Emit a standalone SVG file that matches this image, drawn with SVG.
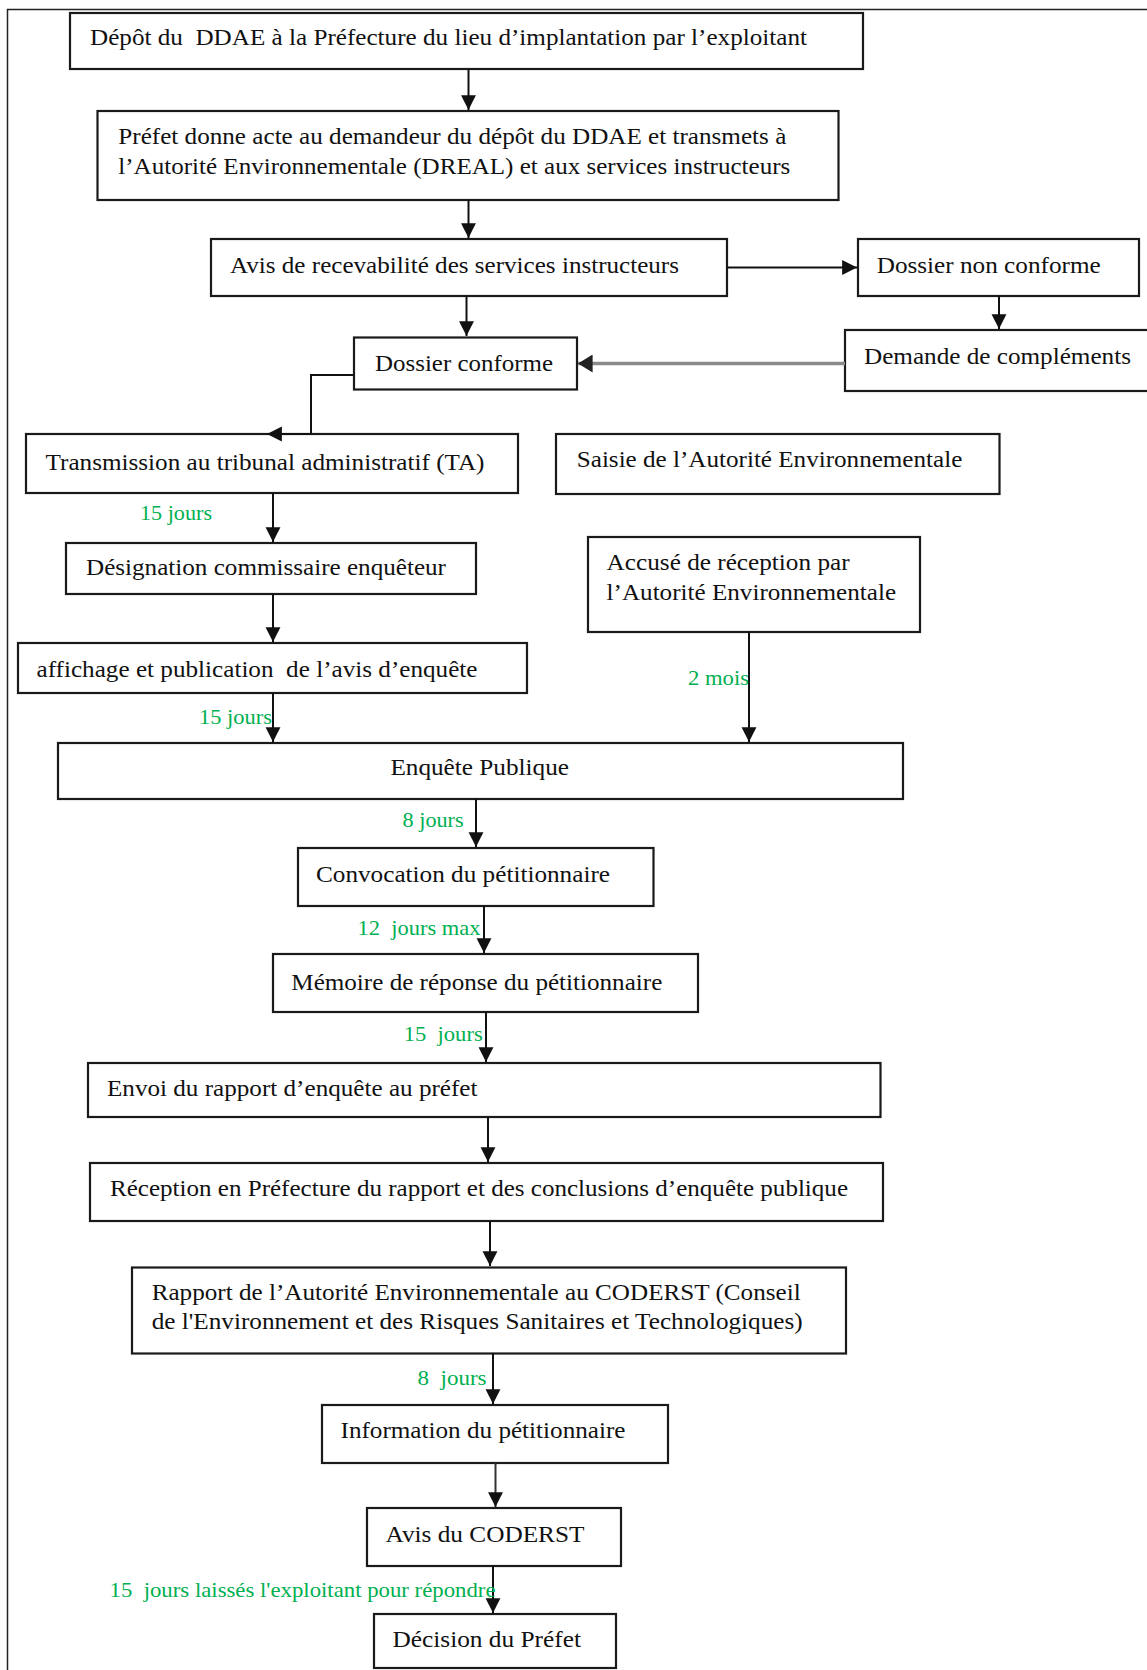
<svg xmlns="http://www.w3.org/2000/svg" width="1147" height="1670" viewBox="0 0 1147 1670" xml:space="preserve">
<defs>
<marker id="ah" markerUnits="userSpaceOnUse" markerWidth="16" markerHeight="16" viewBox="0 0 14 14" refX="13" refY="7" orient="auto"><path d="M0,0.5 L13,7 L0,13.5 Z" fill="#111"/></marker>
<marker id="ahg" markerUnits="userSpaceOnUse" markerWidth="16" markerHeight="18" viewBox="0 0 14 16" refX="13" refY="8" orient="auto"><path d="M0,0 L13,8 L0,16 Z" fill="#222"/></marker>
</defs>
<style>
.box{fill:#fff;stroke:#1a1a1a;stroke-width:2.2}
.t{font-family:"Liberation Serif","Times New Roman",serif;font-size:23px;fill:#111;white-space:pre}
.g{font-family:"Liberation Serif","Times New Roman",serif;font-size:21px;fill:#00b050;white-space:pre}
.c{fill:none;stroke:#111;stroke-width:2}
.cg{fill:none;stroke:#8a8a8a;stroke-width:3.5}
</style>
<rect x="0" y="0" width="1147" height="1670" fill="#fff"/>
<rect id="frame" x="7.5" y="9.5" width="1200" height="1700" fill="none" stroke="#222" stroke-width="1.5"/>

<g id="n1"><rect class="box" x="70" y="13" width="793" height="56"/><text class="t" x="90" y="45" textLength="717" lengthAdjust="spacingAndGlyphs">Dépôt du  DDAE à la Préfecture du lieu d’implantation par l’exploitant</text></g>
<g id="n2"><rect class="box" x="97.5" y="111" width="741" height="89"/><text class="t" x="118.3" y="144" textLength="668" lengthAdjust="spacingAndGlyphs">Préfet donne acte au demandeur du dépôt du DDAE et transmets à</text><text class="t" x="118.3" y="174" textLength="672" lengthAdjust="spacingAndGlyphs">l’Autorité Environnementale (DREAL) et aux services instructeurs</text></g>
<g id="n3"><rect class="box" x="211" y="239" width="516" height="57"/><text class="t" x="230" y="272.7" textLength="449" lengthAdjust="spacingAndGlyphs">Avis de recevabilité des services instructeurs</text></g>
<g id="n4"><rect class="box" x="858" y="239" width="281" height="57"/><text class="t" x="876.7" y="272.7" textLength="224" lengthAdjust="spacingAndGlyphs">Dossier non conforme</text></g>
<g id="n5"><rect class="box" x="845" y="330" width="330" height="61"/><text class="t" x="864" y="364" textLength="267" lengthAdjust="spacingAndGlyphs">Demande de compléments</text></g>
<g id="n6"><rect class="box" x="354" y="337.5" width="223" height="52"/><text class="t" x="375" y="370.7" textLength="178" lengthAdjust="spacingAndGlyphs">Dossier conforme</text></g>
<g id="n7"><rect class="box" x="26" y="434" width="492" height="59"/><text class="t" x="45.5" y="470" textLength="439" lengthAdjust="spacingAndGlyphs">Transmission au tribunal administratif (TA)</text></g>
<g id="n8"><rect class="box" x="556" y="434" width="443.5" height="60"/><text class="t" x="576.8" y="466.7" textLength="385.5" lengthAdjust="spacingAndGlyphs">Saisie de l’Autorité Environnementale</text></g>
<g id="n9"><rect class="box" x="66" y="543" width="410" height="51"/><text class="t" x="86" y="575" textLength="360" lengthAdjust="spacingAndGlyphs">Désignation commissaire enquêteur</text></g>
<g id="n10"><rect class="box" x="18" y="643" width="509" height="50"/><text class="t" x="36.5" y="676.7" textLength="441" lengthAdjust="spacingAndGlyphs">affichage et publication  de l’avis d’enquête</text></g>
<g id="n11"><rect class="box" x="588" y="537" width="332" height="95"/><text class="t" x="606.6" y="570" textLength="243" lengthAdjust="spacingAndGlyphs">Accusé de réception par</text><text class="t" x="606.6" y="600" textLength="289.5" lengthAdjust="spacingAndGlyphs">l’Autorité Environnementale</text></g>
<g id="n12"><rect class="box" x="58" y="743" width="845" height="56"/><text class="t" x="390.4" y="775" textLength="178.6" lengthAdjust="spacingAndGlyphs">Enquête Publique</text></g>
<g id="n13"><rect class="box" x="298" y="848" width="355.5" height="58"/><text class="t" x="316" y="881.7" textLength="294" lengthAdjust="spacingAndGlyphs">Convocation du pétitionnaire</text></g>
<g id="n14"><rect class="box" x="273" y="954" width="425" height="58"/><text class="t" x="291.3" y="990" textLength="371" lengthAdjust="spacingAndGlyphs">Mémoire de réponse du pétitionnaire</text></g>
<g id="n15"><rect class="box" x="88" y="1063" width="792.5" height="54"/><text class="t" x="107" y="1096" textLength="370.5" lengthAdjust="spacingAndGlyphs">Envoi du rapport d’enquête au préfet</text></g>
<g id="n16"><rect class="box" x="90" y="1163" width="793" height="58"/><text class="t" x="110" y="1196" textLength="738" lengthAdjust="spacingAndGlyphs">Réception en Préfecture du rapport et des conclusions d’enquête publique</text></g>
<g id="n17"><rect class="box" x="132" y="1267.5" width="714" height="86"/><text class="t" x="151.7" y="1300" textLength="649" lengthAdjust="spacingAndGlyphs">Rapport de l’Autorité Environnementale au CODERST (Conseil</text><text class="t" x="151.7" y="1329" textLength="651" lengthAdjust="spacingAndGlyphs">de l'Environnement et des Risques Sanitaires et Technologiques)</text></g>
<g id="n18"><rect class="box" x="322" y="1405" width="346" height="58"/><text class="t" x="340.5" y="1438.3" textLength="285" lengthAdjust="spacingAndGlyphs">Information du pétitionnaire</text></g>
<g id="n19"><rect class="box" x="367" y="1508" width="254" height="58"/><text class="t" x="385.5" y="1541.7" textLength="199" lengthAdjust="spacingAndGlyphs">Avis du CODERST</text></g>
<g id="n20"><rect class="box" x="374" y="1614" width="242" height="54"/><text class="t" x="392.5" y="1646.7" textLength="188.5" lengthAdjust="spacingAndGlyphs">Décision du Préfet</text></g>

<g id="connectors">
<path class="c" d="M468.5,69 V110" marker-end="url(#ah)"/>
<path class="c" d="M468.5,200 V238" marker-end="url(#ah)"/>
<path class="c" d="M466.5,296 V336" marker-end="url(#ah)"/>
<path class="c" d="M727,267.5 H857" marker-end="url(#ah)"/>
<path class="c" d="M999,296 V329" marker-end="url(#ah)"/>
<path class="cg" d="M845,363.5 H578" marker-end="url(#ahg)"/>
<path class="c" d="M354,375 H311 V434 H267" marker-end="url(#ah)"/>
<path class="c" d="M273,493 V542" marker-end="url(#ah)"/>
<path class="c" d="M273,594 V642" marker-end="url(#ah)"/>
<path class="c" d="M273,693 V742" marker-end="url(#ah)"/>
<path class="c" d="M749,632 V742" marker-end="url(#ah)"/>
<path class="c" d="M476,799 V847" marker-end="url(#ah)"/>
<path class="c" d="M484,906 V953" marker-end="url(#ah)"/>
<path class="c" d="M486,1012 V1062" marker-end="url(#ah)"/>
<path class="c" d="M488,1117 V1162" marker-end="url(#ah)"/>
<path class="c" d="M490,1221 V1266" marker-end="url(#ah)"/>
<path class="c" d="M493,1353 V1404" marker-end="url(#ah)"/>
<path class="c" d="M495.5,1463 V1507" style="stroke:#333" marker-end="url(#ah)"/>
<path class="c" d="M493,1566 V1613" marker-end="url(#ah)"/>
</g>

<g id="labels">
<text class="g" x="140" y="519.5" textLength="72" lengthAdjust="spacingAndGlyphs">15 jours</text>
<text class="g" x="688" y="685" textLength="61" lengthAdjust="spacingAndGlyphs">2 mois</text>
<text class="g" x="199" y="723.5" textLength="73" lengthAdjust="spacingAndGlyphs">15 jours</text>
<text class="g" x="402.6" y="827" textLength="61" lengthAdjust="spacingAndGlyphs">8 jours</text>
<text class="g" x="357.5" y="935" textLength="123" lengthAdjust="spacingAndGlyphs">12  jours max</text>
<text class="g" x="403.7" y="1040.5" textLength="79" lengthAdjust="spacingAndGlyphs">15  jours</text>
<text class="g" x="417.5" y="1385" textLength="69" lengthAdjust="spacingAndGlyphs">8  jours</text>
<text class="g" x="109.5" y="1596.5" textLength="386" lengthAdjust="spacingAndGlyphs">15  jours laissés l'exploitant pour répondre</text>
</g>
</svg>
